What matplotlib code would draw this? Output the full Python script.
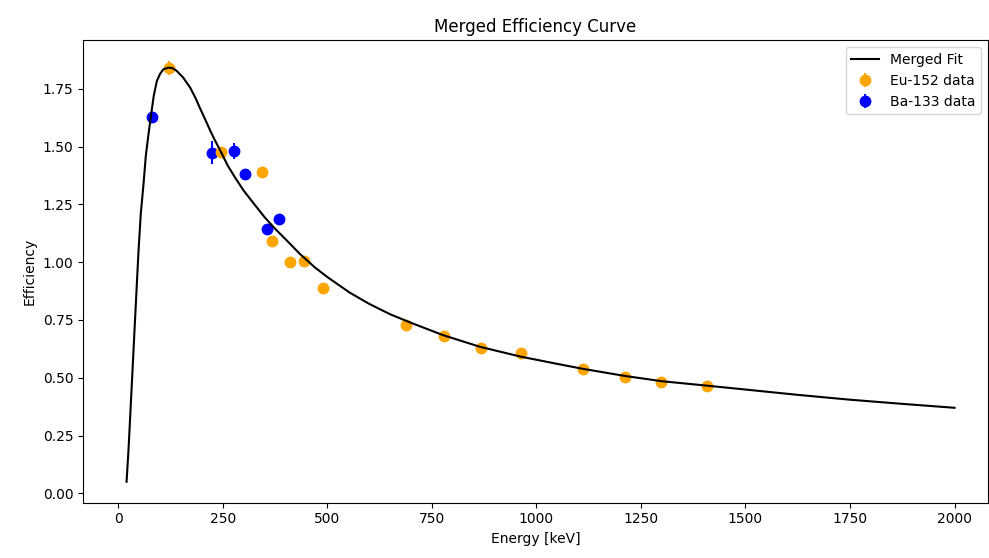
import numpy as np
import matplotlib
matplotlib.use("Agg")
import matplotlib.pyplot as plt

# Eu-152 points (energy keV, efficiency, error)
eu_energy = [121.8, 244.7, 344.3, 367.8, 411.1, 443.9, 488.7, 688.7, 778.9,
             867.4, 964.1, 1112.1, 1212.9, 1299.1, 1408.0]
eu_eff = [1.84, 1.478, 1.39, 1.09, 1.00, 1.004, 0.888, 0.728, 0.68,
          0.63, 0.608, 0.539, 0.504, 0.483, 0.466]
eu_err = [0.03, 0.012, 0.01, 0.01, 0.01, 0.01, 0.01, 0.008, 0.008,
          0.008, 0.008, 0.006, 0.006, 0.006, 0.006]

# Ba-133 points
ba_energy = [81.0, 223.2, 276.4, 302.9, 356.0, 383.8]
ba_eff = [1.63, 1.474, 1.483, 1.38, 1.142, 1.185]
ba_err = [0.012, 0.05, 0.035, 0.012, 0.01, 0.01]

# merged fit curve
fit_energy = [20, 24.7, 32.7, 40.6, 48.6, 54, 60.6, 66, 72.5, 78, 85, 92.4,
              100, 108, 120, 130, 140, 155, 172, 185, 196, 210, 220, 232,
              245, 262, 280, 300, 325, 350, 375, 400, 435, 470, 500, 554,
              600, 650, 700, 776, 865, 961, 1050, 1110, 1211, 1300, 1407,
              1500, 1625, 1750, 1875, 2000]
fit_eff = [0.05, 0.19, 0.477, 0.764, 1.05, 1.21, 1.34, 1.46, 1.555, 1.63,
           1.72, 1.784, 1.815, 1.835, 1.842, 1.840, 1.828, 1.80, 1.756, 1.71,
           1.665, 1.61, 1.57, 1.525, 1.48, 1.418, 1.365, 1.31, 1.252, 1.195,
           1.145, 1.10, 1.035, 0.978, 0.936, 0.868, 0.82, 0.775, 0.738, 0.685,
           0.634, 0.592, 0.56, 0.539, 0.508, 0.485, 0.466, 0.449, 0.426,
           0.405, 0.387, 0.37]

fig, ax = plt.subplots(figsize=(9.89, 5.58), dpi=100)
fig.subplots_adjust(left=0.084, right=0.999, top=0.928, bottom=0.099)

ax.plot(fit_energy, fit_eff, color='black', label='Merged Fit', zorder=3)
ax.errorbar(eu_energy, eu_eff, yerr=eu_err, fmt='o', color='orange',
            markersize=7.5, label='Eu-152 data', zorder=2.5)
ax.errorbar(ba_energy, ba_eff, yerr=ba_err, fmt='o', color='blue',
            markersize=7.5, label='Ba-133 data', zorder=2)

ax.set_xlim(-84, 2080)
ax.set_xlabel('Energy [keV]')
ax.set_ylabel('Efficiency')
ax.set_title('Merged Efficiency Curve')
ax.set_yticks(np.arange(0, 1.76, 0.25))
ax.legend(loc='upper right')

fig.savefig('out.png', dpi=100)
